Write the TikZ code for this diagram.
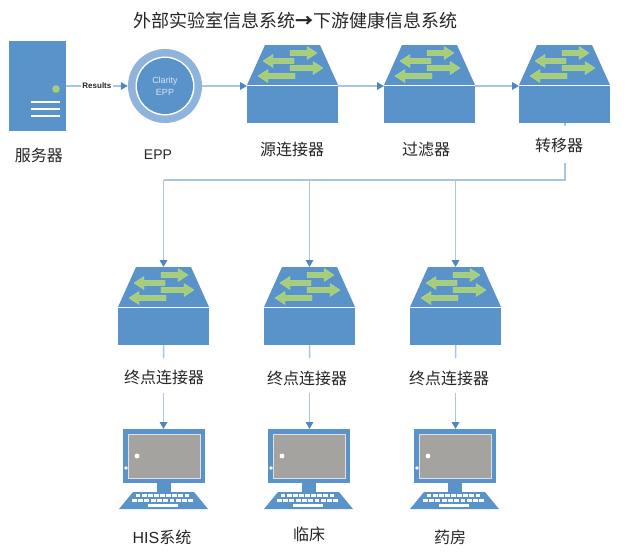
\documentclass[tikz,border=0pt]{standalone}
\usepackage{fontspec}
\setmainfont{Noto Sans CJK SC}
\newfontfamily\latinf{Liberation Sans}
\definecolor{blueA}{HTML}{5A93CA}
\definecolor{blueB}{HTML}{4F86C0}
\definecolor{ringC}{HTML}{8FB4DC}
\definecolor{lineC}{HTML}{A9C5E2}
\definecolor{greenC}{HTML}{A6CE78}
\definecolor{greyC}{HTML}{A5A3A0}
\definecolor{txt}{HTML}{262626}
\usetikzlibrary{arrows.meta}
\tikzset{
  x=1pt,y=-1pt,
  lbl/.style={font=\fontsize{16}{18}\selectfont,text=txt,inner sep=0pt,anchor=center},
  conn/.style={draw=lineC,line width=1.5pt,-{Triangle[length=7pt,width=7.5pt,fill=blueB,color=blueB]}},
  plain/.style={draw=lineC,line width=1.5pt},
  body/.style={fill=blueA,draw=none,inner sep=0pt,minimum width=91pt,minimum height=37pt,anchor=north west},
}
% green block arrow: tail x, head x, y
\newcommand{\garrow}[3]{%
  \pgfmathsetmacro{\dr}{(#2>#1)?1:-1}%
  \fill[greenC,draw=greenC!80!white,line width=.4pt] (#1,#3-2.6) -- ({#2-\dr*10},#3-2.6) -- ({#2-\dr*10},#3-6.5) -- (#2,#3) -- ({#2-\dr*10},#3+6.5) -- ({#2-\dr*10},#3+2.6) -- (#1,#3+2.6) -- cycle;}
% switch: name, left x of body, top y of trapezoid
\newcommand{\swbox}[3]{%
  \begin{scope}[shift={(#2,#3)}]
    \fill[blueA] (18,0) -- (73,0) -- (91,40) -- (0,40) -- cycle;
    \node[body] (#1) at (0,40.8) {};
    \draw[white,opacity=.8,line width=.7pt] (0,40.4) -- (91,40.4);
    \coordinate (#1-top) at (45.5,0);
    \coordinate (#1-left) at (0,41);
    \coordinate (#1-right) at (91,41);
    \garrow{43}{70}{8}
    \garrow{43}{76}{23}
    \garrow{47}{16}{16}
    \garrow{48}{11}{31}
  \end{scope}}
% monitor: name, left x of frame, top y of frame
\newcommand{\pcbox}[3]{%
  \begin{scope}[shift={(#2,#3)}]
    \node[fill=blueA,inner sep=0pt,minimum width=82pt,minimum height=54pt,anchor=north west] (#1) at (0,0) {};
    \fill[greyC,draw=black!12,line width=1pt] (5,5) rectangle (77,49);
    \fill[white] (14,27) circle (2.4);
    \fill[white] (3,39) circle (1.9);
    \fill[blueA] (34,54) rectangle (48,63);
    \fill[blueA] (10,63) -- (71,63) -- (85,80) -- (-4,80) -- cycle;
    \foreach \r/\a/\b/\n in {65/12/67/9,70/8/71/10}{
      \foreach \i in {1,...,\n}{
        \pgfmathsetmacro{\w}{(\b-\a)/\n}
        \fill[white] ({\a+(\i-1)*\w+.7},\r) rectangle ({\a+\i*\w-.7},\r+3);
      }}
    \fill[white] (25,75) rectangle (55,78);
  \end{scope}}
\begin{document}
\begin{tikzpicture}
\useasboundingbox (0,0) rectangle (627,557);
\fill[white] (0,0) rectangle (627,557);

% title
\node[lbl,anchor=west,font=\fontsize{18}{20}\selectfont] (title) at (133,21) {外部实验室信息系统\textbf{→}下游健康信息系统};

% server
\node[fill=blueA,inner sep=0pt,minimum width=57pt,minimum height=90pt,anchor=north west] (srv) at (9,41) {};
\fill[greenC] (56,89) circle (3.8);
\foreach \yy in {102,109,116}{\fill[white] (31,\yy-1) rectangle (60,\yy+1);}
\coordinate (srv-out) at (66,86);

% EPP
\node[circle,fill=ringC,inner sep=0pt,minimum size=74pt] (epp) at (165,86) {};
\fill[white] (165,86) circle (29.5);
\fill[blueA] (165,86) circle (28);
\node[font=\latinf\fontsize{9}{12}\selectfont,text=white!75!blueA,align=center,inner sep=0pt] (epplab) at (165,86) {Clarity\\EPP};

% switches
\swbox{swa}{247}{45}
\swbox{swb}{384}{45}
\swbox{swc}{519}{45}
\swbox{swd}{118}{267}
\swbox{swe}{264}{267}
\swbox{swf}{410}{267}

% monitors
\pcbox{pca}{123}{429}
\pcbox{pcb}{268}{429}
\pcbox{pcc}{414}{429}

% labels
\node[lbl] (l1) at (39,155) {服务器};
\node[lbl,font=\latinf\fontsize{14}{16}\selectfont] (l2) at (158,155) {EPP};
\node[lbl] (l3) at (292,149) {源连接器};
\node[lbl] (l4) at (426,149) {过滤器};
\node[lbl] (l5) at (559,145) {转移器};
\node[lbl] (l6) at (164,377) {终点连接器};
\node[lbl] (l7) at (307,378) {终点连接器};
\node[lbl] (l8) at (449,378) {终点连接器};
\node[lbl] (l9) at (162,537) {\latinf HIS\normalfont 系统};
\node[lbl] (l10) at (309,534) {临床};
\node[lbl] (l11) at (450,537) {药房};

% free ends
\coordinate (busr) at (565,180);
\coordinate (busl) at (163.5,180);
\coordinate (tr1) at (565,126);
\coordinate (tr2) at (565,163);
\coordinate (ga) at (163.5,358);
\coordinate (gb) at (309.5,358);
\coordinate (gc) at (455.5,358);
\coordinate (ha) at (163.5,393);
\coordinate (hb) at (309.5,393);
\coordinate (hc) at (455.5,393);

% connectors
\draw[conn] (srv-out) -- node[fill=white,inner sep=1.5pt,font=\latinf\fontsize{8}{10}\bfseries,text=txt] {Results} (epp.west);
\draw[conn] (epp.east) -- (swa-left);
\draw[conn] (swa-right) -- (swb-left);
\draw[conn] (swb-right) -- (swc-left);
\draw[plain] (swc.south -| tr1) -- (tr1);
\draw[plain] (tr2) -- (busr) -- (busl);
\draw[conn] (busl) -- (swd-top);
\draw[conn] (swe-top |- busr) -- (swe-top);
\draw[conn] (swf-top |- busr) -- (swf-top);
\draw[plain] (swd.south) -- (ga);
\draw[plain] (swe.south) -- (gb);
\draw[plain] (swf.south) -- (gc);
\draw[conn] (ha) -- (ha |- pca.north);
\draw[conn] (hb) -- (hb |- pcb.north);
\draw[conn] (hc) -- (hc |- pcc.north);
\end{tikzpicture}
\end{document}
